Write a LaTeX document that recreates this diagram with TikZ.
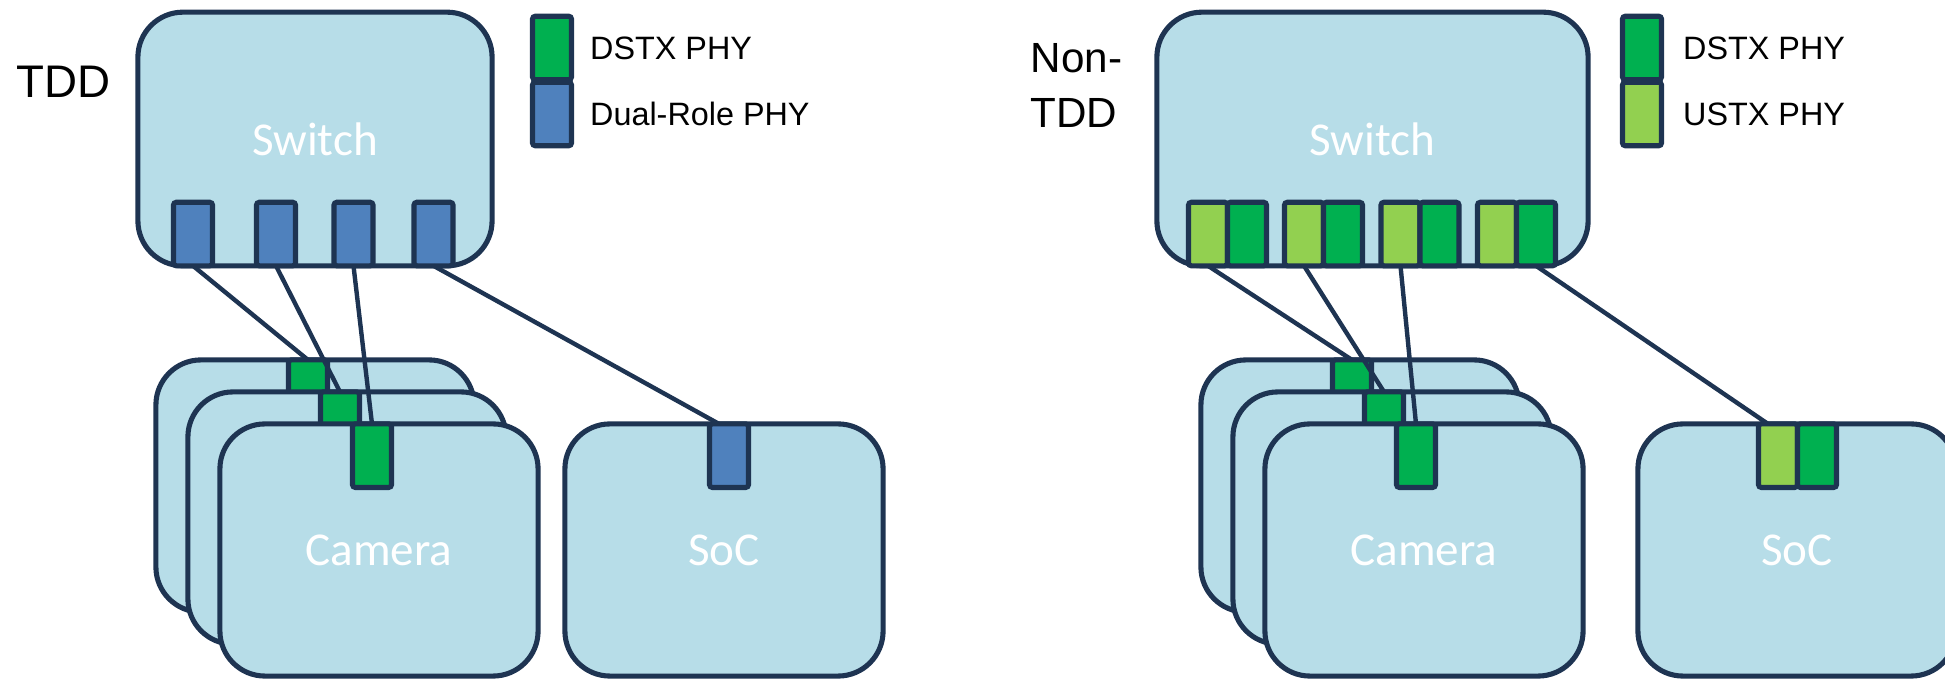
\documentclass[tikz,border=0pt]{standalone}
\usepackage{fontspec}
\setmainfont{Liberation Sans}
\newfontfamily\calib{Carlito}
\usepackage{tikz}
\usetikzlibrary{positioning}
\definecolor{edgeblue}{RGB}{30,52,82}
\definecolor{boxblue}{RGB}{183,221,232}
\definecolor{dualblue}{RGB}{79,129,189}
\definecolor{dstxgreen}{RGB}{0,176,80}
\definecolor{ustxgreen}{RGB}{146,208,80}
\tikzset{
    %Define style for boxes
    unit/.style={
           rectangle,
           rounded corners=0.45cm,
           draw=edgeblue, line width=1.45pt,
           fill=boxblue,
           minimum width=3.18cm,
           minimum height=2.52cm,
           inner sep=0pt, outer sep=0pt,
           font=\calib\fontsize{13.4}{16}\selectfont,
           text=white,
           text centered},
    switchbox/.style={
           unit,
           minimum width=3.54cm,
           minimum height=2.535cm},
    %Define style for PHYs
    port/.style={
           rectangle,
           rounded corners=0.8pt,
           draw=edgeblue, line width=1.45pt,
           minimum width=0.39cm,
           minimum height=0.635cm,
           inner sep=0pt, outer sep=0pt},
    dstx/.style={port, fill=dstxgreen},
    ustx/.style={port, fill=ustxgreen},
    dual/.style={port, fill=dualblue},
    %Define style for texts
    legtext/.style={
           inner sep=0pt,
           font=\fontsize{9.2}{11}\selectfont},
    modetext/.style={
           inner sep=0pt,
           align=left,
           font=\fontsize{13}{16}\selectfont}
}
\begin{document}
\begin{tikzpicture}[x=0.01cm,y=-0.01cm,link/.style={draw=edgeblue,line width=1.25pt}]
\useasboundingbox (0,0) rectangle (1945,680);
\clip (0,0) rectangle (1945,680);
% TDD
\node[modetext, anchor=west](tdd) at (16,82){TDD};
\node[switchbox](swl) at (315,139){Switch};
\node[dual, anchor=south](pl1) at (193,0 |- swl.south){};
\node[dual, anchor=south](pl2) at (276,0 |- swl.south){};
\node[dual, anchor=south](pl3) at (353.5,0 |- swl.south){};
\node[dual, anchor=south](pl4) at (433.5,0 |- swl.south){};
\node[dstx](lgl1) at (552,48){};
\node[dual](lgl2) at (552,114){};
\node[legtext, right=0.18cm of lgl1](ltl1){DSTX PHY};
\node[legtext, right=0.18cm of lgl2](ltl2){Dual-Role PHY};
\node[unit](camlb) at (315,486){};
\node[dstx, anchor=north](cpl1) at ([xshift=-0.07cm]camlb.north){};
\node[unit](camlm) at (347,518){};
\node[dstx, anchor=north](cpl2) at ([xshift=-0.07cm]camlm.north){};
\node[unit](camlf) at (379,550){Camera};
\node[dstx, anchor=north](cpl3) at ([xshift=-0.07cm]camlf.north){};
\node[unit](socl) at (724,550){SoC};
\node[dual, anchor=north](spl) at ([xshift=0.05cm]socl.north){};
\path[link]
	(pl1.south) edge (cpl1.north)
	(pl2.south) edge (cpl2.north)
	(pl3.south) edge (cpl3.north)
	(pl4.south) edge ([xshift=-0.1cm]spl.north);
% Non-TDD
\node[modetext, anchor=west, font=\fontsize{12}{15.9}\selectfont](ntdd) at (1030,85.5){Non-\\TDD};
\node[switchbox, minimum width=4.31cm](swr) at (1372.5,139){Switch};
\node[ustx, anchor=south](pr1u) at (1208,0 |- swr.south){};
\node[dstx, anchor=south](pr1d) at (1247,0 |- swr.south){};
\node[ustx, anchor=south](pr2u) at (1304,0 |- swr.south){};
\node[dstx, anchor=south](pr2d) at (1343,0 |- swr.south){};
\node[ustx, anchor=south](pr3u) at (1400.5,0 |- swr.south){};
\node[dstx, anchor=south](pr3d) at (1439.5,0 |- swr.south){};
\node[ustx, anchor=south](pr4u) at (1497,0 |- swr.south){};
\node[dstx, anchor=south](pr4d) at (1536,0 |- swr.south){};
\node[dstx](lgr1) at (1642,48){};
\node[ustx](lgr2) at (1642,114){};
\node[legtext, right=0.21cm of lgr1](ltr1){DSTX PHY};
\node[legtext, right=0.21cm of lgr2](ltr2){USTX PHY};
\node[unit](camrb) at (1360,486){};
\node[dstx, anchor=north](cpr1) at ([xshift=-0.08cm]camrb.north){};
\node[unit](camrm) at (1392,518){};
\node[dstx, anchor=north](cpr2) at ([xshift=-0.08cm]camrm.north){};
\node[unit](camrf) at (1424,550){Camera};
\node[dstx, anchor=north](cpr3) at ([xshift=-0.08cm]camrf.north){};
\node[unit](socr) at (1797,550){SoC};
\node[ustx, anchor=north](sprU) at ([xshift=-0.19cm]socr.north){};
\node[dstx, anchor=north](sprD) at ([xshift=0.2cm]socr.north){};
\path[link]
	(pr1u.south) edge (cpr1.north)
	(pr2u.south) edge (cpr2.north)
	(pr3u.south) edge (cpr3.north)
	(pr4d.south) edge ([xshift=-0.1cm]sprU.north);
\end{tikzpicture}
\end{document}
